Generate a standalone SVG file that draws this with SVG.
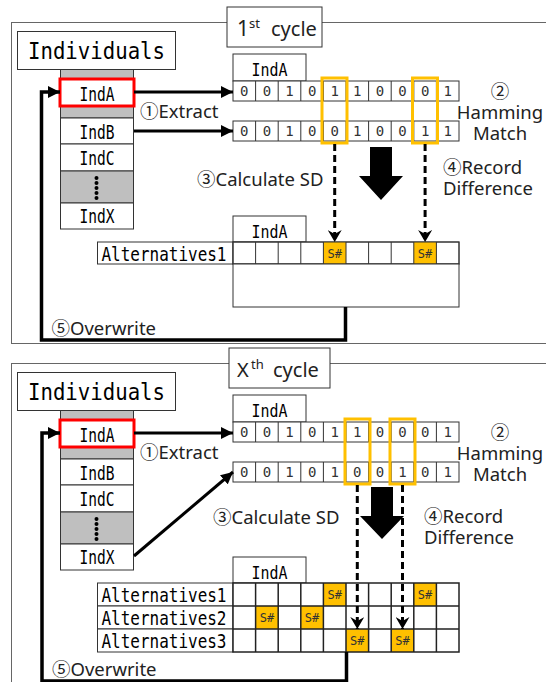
<svg xmlns="http://www.w3.org/2000/svg" width="546" height="682" viewBox="0 0 546 682">
  <style>
    .frame{fill:none;stroke:#666;stroke-width:1}
    .box{fill:#fff;stroke:#333;stroke-width:1}
    .gray{fill:#bfbfbf;stroke:#333;stroke-width:1}
    .sel{fill:#fff;stroke:#ff0000;stroke-width:3}
    .grid{fill:none;stroke:#333;stroke-width:1}
    .grid2{fill:none;stroke:#222;stroke-width:1.5}
    .sh{fill:#ffc000}
    .hl{fill:none;stroke:#ffc000;stroke-width:3}
    .mono{font-family:"DejaVu Sans Mono",monospace;fill:#000;text-anchor:middle}
    .bit{font-family:"DejaVu Sans Mono",monospace;font-size:14px;fill:#333;text-anchor:middle}
    .sx{font-family:"DejaVu Sans Mono",monospace;font-size:12px;fill:#333;text-anchor:middle}
    .lbl{font-family:"Noto Sans","Noto Sans CJK JP",sans-serif;font-size:18.5px;fill:#222}
    .mid{text-anchor:middle}
    .ttl{font-family:"Noto Sans",sans-serif;fill:#222}
    .wire{fill:none;stroke:#000;stroke-width:3}
    .loop{fill:none;stroke:#000;stroke-width:3.5}
    .dash{fill:none;stroke:#000;stroke-width:3;stroke-dasharray:7 4}
    .blk{fill:#000}
  </style>
  <defs>
    <marker id="tri" markerUnits="userSpaceOnUse" markerWidth="12" markerHeight="12" refX="12" refY="6" orient="auto">
      <path d="M0,0 L12,6 L0,12 Z" fill="#000"/>
    </marker>
    <marker id="notch" markerUnits="userSpaceOnUse" markerWidth="12" markerHeight="14" refX="12" refY="7" orient="auto">
      <path d="M0,0 L12,7 L0,14 L4,7 Z" fill="#000"/>
    </marker>
  </defs>

  <!-- ===================== first cycle ===================== -->
  <g id="cycle1">
    <rect class="frame" x="11.5" y="22.5" width="545" height="321"/>
    <g id="title1">
      <rect class="box" x="227" y="7" width="95" height="40" stroke="#555"/>
      <text class="ttl" x="237" y="36" font-size="21">1</text>
      <text class="ttl" x="249" y="28" font-size="13">st</text>
      <text class="ttl" x="271" y="36" font-size="20">cycle</text>
    </g>
    <g id="individuals1">
      <rect class="box" x="17.5" y="31.5" width="158" height="38"/>
      <text class="mono" x="96.5" y="59" font-size="23" textLength="137" lengthAdjust="spacingAndGlyphs">Individuals</text>
    </g>
    <g id="pool1">
      <rect class="gray" x="60.5" y="69.5" width="73" height="48.5"/>
      <rect class="box" x="60.5" y="118" width="73" height="26"/>
      <rect class="box" x="60.5" y="144" width="73" height="27"/>
      <rect class="gray" x="60.5" y="171" width="73" height="32"/>
      <rect class="box" x="60.5" y="203" width="73" height="26"/>
      <rect class="sel" x="60" y="79" width="74" height="27"/>
      <text class="mono" x="97" y="100.5" font-size="19" textLength="35" lengthAdjust="spacingAndGlyphs">IndA</text>
      <text class="mono" x="97" y="138.5" font-size="19" textLength="35" lengthAdjust="spacingAndGlyphs">IndB</text>
      <text class="mono" x="97" y="164.5" font-size="19" textLength="35" lengthAdjust="spacingAndGlyphs">IndC</text>
      <text class="mono" x="97" y="223" font-size="19" textLength="35" lengthAdjust="spacingAndGlyphs">IndX</text>
      <g class="blk">
        <circle cx="96.5" cy="178" r="2"/><circle cx="96.5" cy="183" r="2"/><circle cx="96.5" cy="188" r="2"/><circle cx="96.5" cy="193" r="2"/><circle cx="96.5" cy="198" r="2"/>
      </g>
    </g>
    <g id="bits1">
      <rect class="box" x="233" y="54" width="73" height="27"/>
      <text class="mono" x="269.5" y="76" font-size="18" textLength="36" lengthAdjust="spacingAndGlyphs">IndA</text>
      <rect class="box" x="233" y="81" width="226" height="20"/>
      <path class="grid" d="M255.6,81V101M278.2,81V101M300.8,81V101M323.4,81V101M346,81V101M368.6,81V101M391.2,81V101M413.8,81V101M436.4,81V101"/>
      <text class="bit" x="244.3 266.9 289.5 312.1 334.7 357.3 379.9 402.5 425.1 447.7" y="96">0010110001</text>
      <rect class="box" x="233" y="121" width="226" height="20"/>
      <path class="grid" d="M255.6,121V141M278.2,121V141M300.8,121V141M323.4,121V141M346,121V141M368.6,121V141M391.2,121V141M413.8,121V141M436.4,121V141"/>
      <text class="bit" x="244.3 266.9 289.5 312.1 334.7 357.3 379.9 402.5 425.1 447.7" y="136">0010010011</text>
      <rect class="hl" x="322" y="78" width="25" height="65"/>
      <rect class="hl" x="412.5" y="78" width="25" height="65"/>
    </g>
    <g id="alts1">
      <rect class="box" x="233" y="216" width="73" height="26"/>
      <text class="mono" x="269.5" y="237.5" font-size="18" textLength="36" lengthAdjust="spacingAndGlyphs">IndA</text>
      <rect class="box" x="97.5" y="242" width="135.5" height="22"/>
      <text class="mono" x="164" y="260.5" font-size="20" textLength="125" lengthAdjust="spacingAndGlyphs">Alternatives1</text>
      <rect class="box" x="233" y="242" width="226" height="22"/>
      <rect class="sh" x="323.4" y="242" width="22.6" height="22"/>
      <rect class="sh" x="413.8" y="242" width="22.6" height="22"/>
      <path class="grid" d="M255.6,242V264M278.2,242V264M300.8,242V264M323.4,242V264M346,242V264M368.6,242V264M391.2,242V264M413.8,242V264M436.4,242V264"/>
      <rect class="grid" x="233" y="242" width="226" height="22"/>
      <text class="sx" x="334.7" y="257.5">S#</text>
      <text class="sx" x="425.1" y="257.5">S#</text>
      <rect class="box" x="233" y="264" width="226" height="43"/>
    </g>
    <g id="labels1" class="lbl">
      <text x="140" y="118">①Extract</text>
      <text class="mid" x="500" y="98">②</text>
      <text class="mid" x="500" y="119">Hamming</text>
      <text class="mid" x="500" y="140">Match</text>
      <text x="197" y="186">③Calculate SD</text>
      <text x="443" y="174">④Record</text>
      <text x="443" y="195">Difference</text>
      <text x="51.5" y="335">⑤Overwrite</text>
    </g>
  </g>

  <!-- ===================== x-th cycle ===================== -->
  <g id="cycleX">
    <rect class="frame" x="11.5" y="363.5" width="545" height="321"/>
    <g id="titleX">
      <rect class="box" x="229" y="348" width="101" height="40" stroke="#555"/>
      <text class="ttl" x="237" y="377" font-size="20">X</text>
      <text class="ttl" x="251" y="369" font-size="13">th</text>
      <text class="ttl" x="273" y="377" font-size="20">cycle</text>
    </g>
    <g id="individualsX">
      <rect class="box" x="17.5" y="372.5" width="158" height="38"/>
      <text class="mono" x="96.5" y="400" font-size="23" textLength="137" lengthAdjust="spacingAndGlyphs">Individuals</text>
    </g>
    <g id="poolX">
      <rect class="gray" x="60.5" y="410.5" width="73" height="48.5"/>
      <rect class="box" x="60.5" y="459" width="73" height="26"/>
      <rect class="box" x="60.5" y="485" width="73" height="27"/>
      <rect class="gray" x="60.5" y="512" width="73" height="32"/>
      <rect class="box" x="60.5" y="544" width="73" height="26"/>
      <rect class="sel" x="60" y="420" width="74" height="27"/>
      <text class="mono" x="97" y="441.5" font-size="19" textLength="35" lengthAdjust="spacingAndGlyphs">IndA</text>
      <text class="mono" x="97" y="479.5" font-size="19" textLength="35" lengthAdjust="spacingAndGlyphs">IndB</text>
      <text class="mono" x="97" y="505.5" font-size="19" textLength="35" lengthAdjust="spacingAndGlyphs">IndC</text>
      <text class="mono" x="97" y="564" font-size="19" textLength="35" lengthAdjust="spacingAndGlyphs">IndX</text>
      <g class="blk">
        <circle cx="96.5" cy="519" r="2"/><circle cx="96.5" cy="524" r="2"/><circle cx="96.5" cy="529" r="2"/><circle cx="96.5" cy="534" r="2"/><circle cx="96.5" cy="539" r="2"/>
      </g>
    </g>
    <g id="bitsX">
      <rect class="box" x="233" y="395" width="73" height="27"/>
      <text class="mono" x="269.5" y="417" font-size="18" textLength="36" lengthAdjust="spacingAndGlyphs">IndA</text>
      <rect class="box" x="233" y="422" width="226" height="20"/>
      <path class="grid" d="M255.6,422V442M278.2,422V442M300.8,422V442M323.4,422V442M346,422V442M368.6,422V442M391.2,422V442M413.8,422V442M436.4,422V442"/>
      <text class="bit" x="244.3 266.9 289.5 312.1 334.7 357.3 379.9 402.5 425.1 447.7" y="437">0010110001</text>
      <rect class="box" x="233" y="462" width="226" height="20"/>
      <path class="grid" d="M255.6,462V482M278.2,462V482M300.8,462V482M323.4,462V482M346,462V482M368.6,462V482M391.2,462V482M413.8,462V482M436.4,462V482"/>
      <text class="bit" x="244.3 266.9 289.5 312.1 334.7 357.3 379.9 402.5 425.1 447.7" y="477">0010100101</text>
      <rect class="hl" x="345" y="419" width="25" height="65"/>
      <rect class="hl" x="390" y="419" width="25" height="65"/>
    </g>
    <g id="altsX">
      <rect class="box" x="233" y="557" width="73" height="26"/>
      <text class="mono" x="269.5" y="578.5" font-size="18" textLength="36" lengthAdjust="spacingAndGlyphs">IndA</text>
      <rect class="box" x="97.5" y="583" width="135.5" height="23"/>
      <rect class="box" x="97.5" y="606" width="135.5" height="23"/>
      <rect class="box" x="97.5" y="629" width="135.5" height="23"/>
      <text class="mono" x="164" y="602" font-size="20" textLength="125" lengthAdjust="spacingAndGlyphs">Alternatives1</text>
      <text class="mono" x="164" y="625" font-size="20" textLength="125" lengthAdjust="spacingAndGlyphs">Alternatives2</text>
      <text class="mono" x="164" y="648" font-size="20" textLength="125" lengthAdjust="spacingAndGlyphs">Alternatives3</text>
      <rect fill="#fff" x="233" y="583" width="226" height="69"/>
      <rect class="sh" x="323.4" y="583" width="22.6" height="23"/>
      <rect class="sh" x="413.8" y="583" width="22.6" height="23"/>
      <rect class="sh" x="255.6" y="606" width="22.6" height="23"/>
      <rect class="sh" x="300.8" y="606" width="22.6" height="23"/>
      <rect class="sh" x="346" y="629" width="22.6" height="23"/>
      <rect class="sh" x="391.2" y="629" width="22.6" height="23"/>
      <path class="grid2" d="M255.6,583V652M278.2,583V652M300.8,583V652M323.4,583V652M346,583V652M368.6,583V652M391.2,583V652M413.8,583V652M436.4,583V652M233,606H459M233,629H459"/>
      <rect class="grid2" x="233" y="583" width="226" height="69" stroke-width="2"/>
      <text class="sx" x="334.7" y="599">S#</text>
      <text class="sx" x="425.1" y="599">S#</text>
      <text class="sx" x="266.9" y="622">S#</text>
      <text class="sx" x="312.1" y="622">S#</text>
      <text class="sx" x="357.3" y="645">S#</text>
      <text class="sx" x="402.5" y="645">S#</text>
    </g>
    <g id="labelsX" class="lbl">
      <text x="140" y="459">①Extract</text>
      <text class="mid" x="500" y="439">②</text>
      <text class="mid" x="500" y="460">Hamming</text>
      <text class="mid" x="500" y="481">Match</text>
      <text x="213" y="524">③Calculate SD</text>
      <text x="424" y="523">④Record</text>
      <text x="424" y="544">Difference</text>
      <text x="52" y="676">⑤Overwrite</text>
    </g>
  </g>

  <!-- ===================== connectors ===================== -->
  <g id="connectors">
    <!-- first cycle -->
    <path class="wire" d="M134,92H233" marker-end="url(#tri)"/>
    <path class="wire" d="M134,131H233" marker-end="url(#tri)"/>
    <path class="dash" d="M334.7,144V242" marker-end="url(#notch)"/>
    <path class="dash" d="M425.1,144V242" marker-end="url(#notch)"/>
    <path class="blk" d="M370,147H392V176H403L381,200L359,176H370Z"/>
    <path class="loop" d="M345.5,307V340H41.5V92H60" marker-end="url(#tri)"/>
    <!-- x-th cycle -->
    <path class="wire" d="M134,433H233" marker-end="url(#tri)"/>
    <path class="wire" d="M134,556L233,472" marker-end="url(#tri)"/>
    <path class="blk" d="M371,487H393V516H404L382,539L360,516H371Z"/>
    <path class="dash" d="M357.3,485V629" marker-end="url(#notch)"/>
    <path class="dash" d="M402.5,485V629" marker-end="url(#notch)"/>
    <path class="loop" d="M346.5,652V681H42V433H60" marker-end="url(#tri)"/>
  </g>
</svg>
